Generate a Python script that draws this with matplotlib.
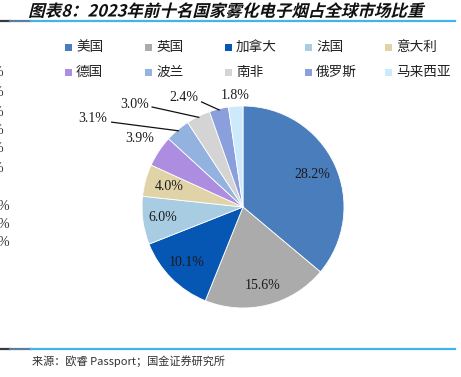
import matplotlib
matplotlib.use("Agg")
import matplotlib.pyplot as plt
import numpy as np
from matplotlib.lines import Line2D
from matplotlib.patches import Rectangle, PathPatch
from matplotlib.textpath import TextPath
from matplotlib.font_manager import FontProperties
from matplotlib.transforms import Affine2D

countries = ["美国", "英国", "加拿大", "法国", "意大利",
             "德国", "波兰", "南非", "俄罗斯", "马来西亚"]
shares = [28.2, 15.6, 10.1, 6.0, 4.0, 3.9, 3.1, 3.0, 2.4, 1.8]
colors = ["#4A7DBC", "#ABABAB", "#0656B4", "#A8CCE1", "#E1D3A8",
          "#AC8DE0", "#94B2E0", "#D4D4D4", "#8A9FDB", "#CDEAFC"]

title = "图表8：2023年前十名国家雾化电子烟占全球市场比重"
source = "来源：欧睿 Passport；国金证券研究所"

W, H = 461, 377
fig = plt.figure(figsize=(W / 100, H / 100), dpi=100)


def fx(px):
    return px / W


def fy(py):
    return 1 - py / H


# pie axes: centre at (243, 207) px, radius 101 px
R = 101
cx, cy = 243, 207
lim = 1.6
side = 2 * lim * R
ax = fig.add_axes([fx(cx - side / 2), fy(cy + side / 2), side / W, side / H])
wedges, _ = ax.pie(shares, colors=colors, startangle=90, counterclock=False,
                   wedgeprops=dict(edgecolor="white", linewidth=0.6))
ax.set_xlim(-lim, lim)
ax.set_ylim(-lim, lim)
ax.set_aspect("equal")
ax.axis("off")

serif = "Liberation Serif"
total = sum(shares)
cum = np.cumsum([0] + shares[:-1])
# radial distance of each label (None -> placed with a leader line)
label_r = [0.76, 0.8, 0.78, 0.8, 0.76, 1.23, None, None, None, 1.11]
leader_text = {6: (-1.49, 0.88), 7: (-1.07, 1.01), 8: (-0.59, 1.08)}
leader_start = {6: (-1.30, 0.84), 7: (-0.90, 0.99), 8: (-0.41, 1.04)}
for i, v in enumerate(shares):
    mid = np.deg2rad(90 - (cum[i] + v / 2) / total * 360)
    txt = f"{v:.1f}%"
    if label_r[i] is not None:
        r = label_r[i]
        ax.text(r * np.cos(mid), r * np.sin(mid), txt, ha="center", va="center",
                fontsize=10, family=serif, color="#1a1a1a")
    else:
        tx, ty = leader_text[i]
        ax.text(tx, ty, txt, ha="center", va="center", fontsize=10,
                family=serif, color="#1a1a1a")
        sx, sy = leader_start[i]
        ax.plot([sx, 0.99 * np.cos(mid)], [sy, 0.99 * np.sin(mid)],
                color="#111111", lw=0.9)

# legend, two rows of five
cjk = ["Noto Sans CJK SC", "DejaVu Sans"]
for i, (name, c) in enumerate(zip(countries, colors)):
    col, row = i % 5, i // 5
    x0 = 65 + col * 80
    y0 = 47 + row * 25
    fig.add_artist(Rectangle((fx(x0), fy(y0 + 3.5)), 7 / W, 7 / H,
                             transform=fig.transFigure, color=c, lw=0))
    fig.text(fx(x0 + 11), fy(y0), name, ha="left", va="center",
             fontsize=9.8, family=cjk, color="#222222")

# leftover percent signs cut at the left edge (as in the source page)
for yy in [73, 92, 112, 130, 149, 168]:
    fig.text(fx(3.5), fy(yy), "%", ha="right", va="center", fontsize=10,
             family=serif, color="#333333")
for yy in [206, 224, 243]:
    fig.text(fx(9), fy(yy), "%", ha="right", va="center", fontsize=10,
             family=serif, color="#333333")

# title in bold, slanted
fp = FontProperties(family="Noto Sans CJK SC", weight="bold")
tp = TextPath((0, 0), title, size=16.5, prop=fp)
ext = tp.get_extents()
tw = ext.width
tr = Affine2D().skew_deg(14, 0).translate(226 - tw / 2 - ext.x0, H - 16.5)
fig.add_artist(PathPatch(tp, transform=tr, facecolor="#111111", lw=0))

# header/footer rules
for yy in [21, 349]:
    fig.add_artist(Line2D([fx(0), fx(10)], [fy(yy)] * 2, color="#3a3a3a", lw=1.6))
    fig.add_artist(Line2D([fx(10), fx(31)], [fy(yy)] * 2, color="#5b7f9f", lw=1.6))
    fig.add_artist(Line2D([fx(31), fx(455)], [fy(yy)] * 2, color="#41B4EE", lw=1.6))

fig.text(fx(32), fy(361), source, ha="left", va="center", fontsize=8,
         family=cjk, color="#333333")

fig.savefig("out.png", dpi=100)
